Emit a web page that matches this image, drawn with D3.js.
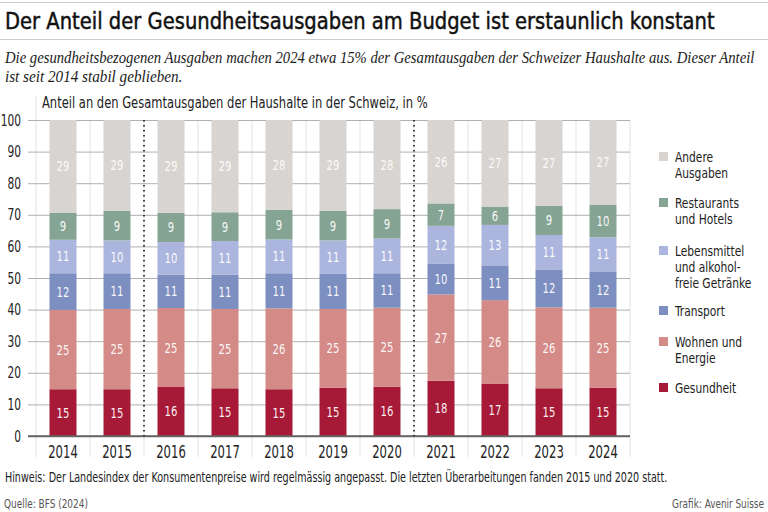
<!DOCTYPE html>
<html><head><meta charset="utf-8">
<script src="https://cdn.jsdelivr.net/npm/d3@7/dist/d3.min.js"></script>
<style>
body{margin:0;background:#fff;}
svg{display:block;}
.cond{font-family:"Liberation Sans Narrow","DejaVu Sans Condensed","Roboto",sans-serif;}
</style></head>
<body>
<svg id="chart" width="768" height="512"></svg>
<script>
const years = ["2014","2015","2016","2017","2018","2019","2020","2021","2022","2023","2024"];
const seriesNames = ["Gesundheit","Wohnen und Energie","Transport","Lebensmittel und alkoholfreie Getränke","Restaurants und Hotels","Andere Ausgaben"];
const gesundheit   = [14.8,14.8,15.5,15.1,14.8,15.3,15.6,17.5,16.6,15.1,15.3];
const wohnen       = [25.1,25.4,25.0,25.1,25.6,24.9,25.0,27.3,26.4,25.6,25.3];
const transport    = [11.6,11.3,10.6,10.9,11.1,11.1,10.9, 9.8,11.0,12.0,11.5];
const lebensmittel = [10.6,10.4,10.3,10.6,10.7,10.6,11.0,11.9,12.8,10.9,10.8];
const restaurants  = [ 8.6, 9.4, 9.2, 9.1, 9.4, 9.4, 9.3, 7.1, 5.8, 9.2,10.2];
const andere       = [29.3,28.7,29.4,29.2,28.4,28.7,28.2,26.4,27.4,27.2,26.9];
const yTicks = [0,10,20,30,40,50,60,70,80,90,100];
const breakAfter = ["2015","2020"];
const colors = ["#a71a37","#d48a86","#7d8ec0","#abb5dd","#86a493","#d8d4d1"];
const legendLines = [["Andere","Ausgaben"],["Restaurants","und Hotels"],["Lebensmittel","und alkohol-","freie Getränke"],["Transport"],["Wohnen und","Energie"],["Gesundheit"]];

const allSeries = [gesundheit,wohnen,transport,lebensmittel,restaurants,andere];
const table = years.map((y,i)=>{const o={year:y}; seriesNames.forEach((s,k)=>o[s]=allSeries[k][i]); return o;});
const stacked = d3.stack().keys(seriesNames)(table);

// horizontal squeeze to imitate a condensed typeface
function squeeze(sel, f){
  sel.each(function(){
    const t = d3.select(this);
    const x = +t.attr("x") || 0, y = +t.attr("y") || 0;
    t.attr("transform", `translate(${x},${y}) scale(${f},1) translate(${-x},${-y})`);
  });
}
function fitTo(sel, w){
  sel.each(function(){
    const f = w / this.getComputedTextLength();
    squeeze(d3.select(this), f);
  });
}

const svg = d3.select("#chart");
const x = d3.scaleBand().domain(years).range([36,630]).paddingInner(0.5).paddingOuter(0.25);
const y = d3.scaleLinear().domain([0,100]).range([436,120]);
const step = x.step();
const SQ = 0.8;

// header
svg.append("line").attr("x1",0).attr("x2",768).attr("y1",2.5).attr("y2",2.5).attr("stroke","#ccc");
fitTo(svg.append("text").attr("class","cond").attr("x",5).attr("y",29.5).attr("font-size",23.5).attr("fill","#111")
  .attr("stroke","#111").attr("stroke-width",0.45)
  .text("Der Anteil der Gesundheitsausgaben am Budget ist erstaunlich konstant"), 710);
svg.append("line").attr("x1",0).attr("x2",768).attr("y1",39.5).attr("y2",39.5).attr("stroke","#ccc");
fitTo(svg.append("text").attr("x",5).attr("y",63).attr("font-family","Liberation Serif, serif").attr("font-style","italic").attr("font-size",16.5).attr("fill","#222")
  .text("Die gesundheitsbezogenen Ausgaben machen 2024 etwa 15% der Gesamtausgaben der Schweizer Haushalte aus. Dieser Anteil"), 750);
squeeze(svg.append("text").attr("x",5).attr("y",82).attr("font-family","Liberation Serif, serif").attr("font-style","italic").attr("font-size",16.5).attr("fill","#222")
  .text("ist seit 2014 stabil geblieben."), 0.92);
fitTo(svg.append("text").attr("class","cond").attr("x",42).attr("y",108).attr("font-size",15).attr("fill","#222")
  .text("Anteil an den Gesamtausgaben der Haushalte in der Schweiz, in %"), 386);

// vertical band separators
const g = svg.append("g");
d3.range(years.length+1).forEach(i=>{
  const xx = 36 + i*step;
  g.append("line").attr("x1",xx).attr("x2",xx).attr("y1",i===0?96:120).attr("y2",457).attr("stroke","#e2e2e2");
});

// y grid
const yAxis = d3.axisLeft(y).tickValues(yTicks).tickSize(-602).tickPadding(8);
const ya = svg.append("g").attr("transform","translate(28,0)").call(yAxis);
ya.select(".domain").remove();
ya.selectAll(".tick line").attr("stroke",d=>d===0?"#666":"#b0b0b0").attr("stroke-width",d=>d===0?1.6:1);
ya.selectAll(".tick text").attr("class","cond").attr("font-size",16).attr("fill","#222").attr("x",-7);
squeeze(ya.selectAll(".tick text"), 0.74);

// bars
const layers = svg.append("g").selectAll("g").data(stacked).join("g").attr("fill",(d,i)=>colors[i]);
layers.selectAll("rect").data(d=>d).join("rect")
  .attr("x",d=>x(d.data.year)).attr("width",x.bandwidth())
  .attr("y",d=>y(d[1])).attr("height",d=>y(d[0])-y(d[1]));
// labels
const lab = svg.append("g");
stacked.forEach((s,k)=>{
  const t = lab.selectAll(null).data(s).join("text").attr("class","cond")
    .attr("x",d=>x(d.data.year)+x.bandwidth()/2).attr("y",d=>y((d[0]+d[1])/2)+5)
    .attr("text-anchor","middle").attr("font-size",14).attr("fill","#fff")
    .attr("fill-opacity",k===5?0.9:0.95)
    .text(d=>Math.round(d[1]-d[0]));
  squeeze(t, SQ);
});
// baseline on top
svg.append("line").attr("x1",28).attr("x2",630).attr("y1",y(0)).attr("y2",y(0)).attr("stroke","#666").attr("stroke-width",1.6);

// dotted break lines
breakAfter.forEach(b=>{
  const xx = x(b)+x.bandwidth()+ (step-x.bandwidth())/2;
  svg.append("line").attr("x1",xx).attr("x2",xx).attr("y1",120).attr("y2",436)
    .attr("stroke","#111").attr("stroke-width",1.6).attr("stroke-dasharray","1.5,3.5");
});

// x axis
const xa = svg.append("g").attr("transform","translate(0,436)").call(d3.axisBottom(x).tickSize(0).tickPadding(10));
xa.select(".domain").remove();
xa.selectAll("text").attr("class","cond").attr("font-size",17).attr("fill","#222");
squeeze(xa.selectAll("text"), 0.76);

// legend
const leg = svg.append("g");
const legY = [157,203,251,311,342,388];
legendLines.forEach((lines,i)=>{
  const ci = 5-i;
  leg.append("rect").attr("x",659).attr("y",legY[i]-5).attr("width",9).attr("height",9).attr("fill",colors[ci]);
  lines.forEach((t,j)=>{
    squeeze(leg.append("text").attr("class","cond").attr("x",675).attr("y",legY[i]+5+j*16).attr("font-size",13.5).attr("fill","#222").text(t), 0.88);
  });
});

// footer
fitTo(svg.append("text").attr("class","cond").attr("x",5).attr("y",482).attr("font-size",13.5).attr("fill","#222")
  .text("Hinweis: Der Landesindex der Konsumentenpreise wird regelmässig angepasst. Die letzten Überarbeitungen fanden 2015 und 2020 statt."), 663);
fitTo(svg.append("text").attr("class","cond").attr("x",4).attr("y",508).attr("font-size",12.5).attr("fill","#555").text("Quelle: BFS (2024)"), 84);
fitTo(svg.append("text").attr("class","cond").attr("x",764).attr("y",508).attr("text-anchor","end").attr("font-size",12.5).attr("fill","#555").text("Grafik: Avenir Suisse"), 92);
</script>
</body></html>
